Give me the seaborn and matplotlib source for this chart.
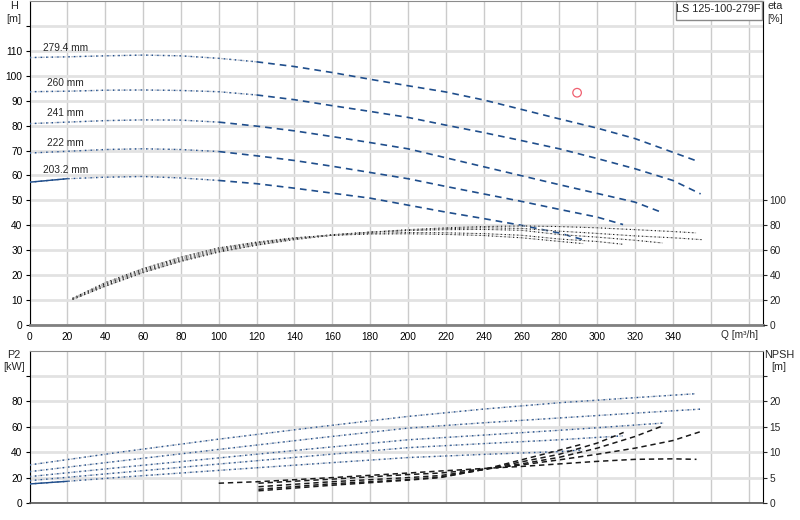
import numpy as np
import pandas as pd
import matplotlib
matplotlib.use("Agg")
import matplotlib.pyplot as plt
import seaborn as sns
from matplotlib.patches import Rectangle

# diametros do rotor
diametros = ["279.4 mm", "260 mm", "241 mm", "222 mm", "203.2 mm"]
modelo = "LS 125-100-279F"

# curvas H (m) x Q (m3/h)
q_h_279 = [0, 20, 40, 60, 80, 100, 120, 140, 160, 180, 200, 220, 240, 260, 280, 300, 320, 340, 352]
h_279 = [107.3, 107.6, 108.0, 108.3, 108.0, 107.0, 105.6, 103.7, 101.3, 98.6, 96.0, 93.5, 90.3, 86.5, 82.7, 79.0, 74.8, 69.3, 66.0]
q_h_260 = [0, 20, 40, 60, 80, 100, 120, 140, 160, 180, 200, 220, 240, 260, 280, 300, 320, 340, 354.7]
h_260 = [93.6, 93.8, 94.2, 94.3, 94.1, 93.6, 92.3, 90.4, 88.0, 85.7, 83.3, 80.2, 77.2, 74.0, 70.7, 66.8, 62.7, 58.0, 52.6]
q_h_241 = [0, 20, 40, 60, 80, 100, 120, 140, 160, 180, 200, 220, 240, 260, 280, 300, 320, 333.8]
h_241 = [80.8, 81.4, 82.0, 82.3, 82.2, 81.4, 79.8, 77.9, 75.6, 73.2, 70.7, 67.1, 63.5, 59.9, 56.3, 52.8, 49.3, 45.3]
q_h_222 = [0, 20, 40, 60, 80, 100, 120, 140, 160, 180, 200, 220, 240, 260, 280, 300, 313.7]
h_222 = [69.0, 69.7, 70.4, 70.7, 70.4, 69.6, 67.9, 66.0, 63.7, 61.2, 58.7, 55.6, 52.6, 49.6, 46.4, 43.3, 40.3]
q_h_203 = [0, 20, 40, 60, 80, 100, 120, 140, 160, 180, 200, 220, 240, 260, 280, 293.6]
h_203 = [57.3, 58.7, 59.3, 59.6, 59.0, 58.0, 56.7, 54.9, 52.9, 50.9, 48.1, 45.3, 42.7, 40.0, 36.9, 34.0]

# rendimento eta (%)
q_eta_279 = [22.8, 40, 60, 80, 100, 120, 140, 160, 180, 200, 220, 240, 260, 280, 300, 320, 340, 352.3]
eta_279 = [20.5, 31.0, 42.0, 51.0, 58.5, 64.0, 68.5, 72.0, 74.5, 76.5, 78.0, 79.0, 79.5, 79.0, 78.0, 76.5, 75.0, 73.9]
q_eta_260 = [22.8, 40, 60, 80, 100, 120, 140, 160, 180, 200, 220, 240, 260, 280, 300, 320, 340, 355.3]
eta_260 = [20.5, 31.5, 42.5, 51.5, 59.0, 64.5, 69.0, 72.2, 74.5, 76.0, 77.3, 78.0, 77.5, 75.3, 73.5, 71.5, 70.0, 68.5]
q_eta_241 = [22.8, 40, 60, 80, 100, 120, 140, 160, 180, 200, 220, 240, 260, 280, 300, 320, 334.7]
eta_241 = [21.0, 32.5, 43.5, 52.5, 60.0, 65.5, 69.5, 72.5, 74.5, 75.8, 76.5, 76.7, 76.0, 72.6, 70.5, 68.0, 65.8]
q_eta_222 = [22.8, 40, 60, 80, 100, 120, 140, 160, 180, 200, 220, 240, 260, 280, 300, 313.5]
eta_222 = [21.3, 33.0, 44.5, 53.5, 61.0, 66.0, 69.5, 72.0, 73.5, 74.2, 74.0, 73.3, 72.0, 69.0, 67.0, 64.8]
q_eta_203 = [22.8, 40, 60, 80, 100, 120, 140, 160, 180, 200, 220, 240, 260, 280, 292.7]
eta_203 = [21.5, 34.0, 45.3, 54.5, 61.9, 66.5, 70.0, 72.0, 73.0, 73.2, 72.7, 71.8, 70.0, 67.1, 65.3]

# potencia P2 (kW)
q_p2_279 = [0, 50, 100, 150, 200, 240, 280, 320, 352]
p2_279 = [30.0, 40.5, 50.3, 59.5, 68.2, 74.0, 79.0, 83.0, 86.1]
q_p2_260 = [0, 50, 100, 150, 200, 240, 280, 320, 355]
p2_260 = [24.7, 33.5, 42.2, 50.8, 59.0, 63.2, 67.0, 70.8, 74.0]
q_p2_241 = [0, 50, 100, 150, 200, 240, 280, 300, 335]
p2_241 = [20.8, 28.3, 35.5, 42.8, 49.8, 53.5, 57.3, 59.3, 63.0]
q_p2_222 = [0, 50, 100, 150, 200, 240, 280, 313.5]
p2_222 = [17.6, 24.2, 30.7, 37.2, 43.6, 46.8, 49.8, 52.9]
q_p2_203 = [0, 20, 50, 100, 150, 200, 240, 280, 292.6]
p2_203 = [15.0, 17.1, 20.5, 25.7, 30.8, 35.8, 38.3, 40.5, 41.9]

# NPSH (m)
q_npsh_279 = [100, 121, 160, 200, 217, 240, 260, 280, 300, 320, 340, 352.5]
npsh_279 = [3.9, 4.2, 5.0, 5.9, 6.3, 6.8, 7.2, 7.7, 8.2, 8.6, 8.7, 8.6]
q_npsh_260 = [121, 160, 200, 217, 240, 260, 280, 300, 320, 340, 355]
npsh_260 = [3.9, 4.7, 5.6, 5.9, 6.7, 7.5, 8.5, 9.6, 10.8, 12.3, 14.1]
q_npsh_241 = [121, 160, 200, 217, 240, 260, 280, 300, 320, 334.7]
npsh_241 = [3.2, 4.2, 5.0, 5.4, 6.6, 7.7, 9.0, 10.8, 13.1, 15.2]
q_npsh_222 = [121, 160, 200, 217, 240, 260, 280, 300, 314]
npsh_222 = [2.7, 3.8, 4.6, 5.1, 6.6, 8.1, 9.6, 11.8, 13.9]
q_npsh_203 = [121, 160, 200, 217, 240, 260, 280, 292.7]
npsh_203 = [2.4, 3.5, 4.5, 5.0, 6.6, 8.5, 10.4, 11.65]

# ponto de trabalho
q_ponto = [289.4]
h_ponto = [93.2]

curvas_h = [(q_h_279, h_279), (q_h_260, h_260), (q_h_241, h_241), (q_h_222, h_222), (q_h_203, h_203)]
curvas_eta = [(q_eta_279, eta_279), (q_eta_260, eta_260), (q_eta_241, eta_241), (q_eta_222, eta_222), (q_eta_203, eta_203)]
curvas_p2 = [(q_p2_279, p2_279), (q_p2_260, p2_260), (q_p2_241, p2_241), (q_p2_222, p2_222), (q_p2_203, p2_203)]
curvas_npsh = [(q_npsh_279, npsh_279), (q_npsh_260, npsh_260), (q_npsh_241, npsh_241), (q_npsh_222, npsh_222), (q_npsh_203, npsh_203)]

sns.set_style("white")
plt.rcParams['font.family'] = ['Liberation Sans', 'DejaVu Sans']
FS = 7.3
AZUL = "#1f4e8c"


def linha(ax, q, v, cor, estilo, lw=1.0, z=3):
    df = pd.DataFrame({"Q": q, "v": v})
    sns.lineplot(data=df, x="Q", y="v", ax=ax, color=cor, linestyle=estilo,
                 linewidth=lw, zorder=z, estimator=None, sort=False, legend=False)


def pontilhado(ax, q, v):
    linha(ax, q, v, "#bcc3cf", (0, (2, 1)), 1.0)
    linha(ax, q, v, AZUL, (0, (1, 3)), 1.0)


def preparar(ax, xtick_labels=True):
    ax.set_xlim(0, 387.5)
    ax.set_xticks(np.arange(0, 381, 20))
    if xtick_labels:
        ax.set_xticklabels([str(v) if v <= 340 else "" for v in range(0, 381, 20)])
    else:
        ax.set_xticklabels([])
    ax.grid(axis="x", color="#cbcbcb", lw=1)
    ax.grid(axis="y", color="#e2e2e2", lw=2)
    ax.set_axisbelow(True)
    ax.tick_params(labelsize=FS, length=3, width=0.8, pad=2, colors="black")
    ax.spines["left"].set_color("black")
    ax.spines["right"].set_color("black")
    ax.spines["top"].set_color("#8c8c8c")
    ax.spines["bottom"].set_color("#808080")
    ax.spines["bottom"].set_linewidth(2)


fig = plt.figure(figsize=(8, 5.2), dpi=100)
ax = fig.add_axes([29.5 / 800, 1 - 325 / 520, 733.2 / 800, 324 / 520])
ax2 = ax.twinx()
axb = fig.add_axes([29.5 / 800, 1 - 503 / 520, 733.2 / 800, 152.3 / 520])
axb2 = axb.twinx()

# --- painel superior: H e eta ---
cortes = [120, 120, 100, 100, 100]
for (q, h), corte in zip(curvas_h, cortes):
    q = np.array(q)
    h = np.array(h)
    m1 = q <= corte
    m2 = q >= corte
    pontilhado(ax, q[m1], h[m1])
    linha(ax, q[m2], h[m2], AZUL, (0, (4, 3)), 1.2)
# trecho continuo inicial do menor rotor
linha(ax, q_h_203[:2], h_203[:2], AZUL, "-", 1.0)

pos_rotulos = [(7.3, 109.8), (9.1, 96.0), (9.1, 84.0), (9.1, 72.0), (7.3, 60.8)]
for nome, (xq, yh) in zip(diametros, pos_rotulos):
    ax.text(xq, yh, nome, fontsize=FS, va="baseline", ha="left")

sns.scatterplot(x=q_ponto, y=h_ponto, ax=ax, marker="o", s=38, facecolors="none",
                edgecolor="#f06070", linewidth=0.9, zorder=5)

for q, e in curvas_eta:
    linha(ax2, q, e, "#b8b8b8", (0, (2, 1)), 0.75)
    linha(ax2, q, e, "#111111", (0, (1, 3)), 0.75)

preparar(ax)
ax.set_ylim(0, 130)
ax.set_yticks(np.arange(0, 121, 10))
ax.set_yticklabels([str(v) if v <= 110 else "" for v in range(0, 121, 10)])
ax2.set_ylim(0, 260)
ax2.set_yticks(np.arange(0, 101, 20))
ax2.tick_params(labelsize=FS, length=3, width=0.8, pad=2)
ax2.grid(False)
for s in ax2.spines.values():
    s.set_visible(False)
ax.set_xlabel("")
ax.set_ylabel("")
ax2.set_ylabel("")
ax2.set_xlabel("")

ax.text(375.5, -0.031, "Q [m\u00b3/h]", transform=ax.get_xaxis_transform(),
        fontsize=FS, ha="center", va="center")

# --- painel inferior: P2 e NPSH ---
for q, p in curvas_p2:
    pontilhado(axb, q, p)
linha(axb, q_p2_203[:2], p2_203[:2], AZUL, "-", 1.0)

for q, n in curvas_npsh:
    linha(axb2, q, n, "#1a1a1a", (0, (3.5, 2.5)), 1.1, z=4)

preparar(axb, xtick_labels=False)
axb.tick_params(axis="x", length=0)
axb.set_ylim(0, 120)
axb.set_yticks(np.arange(0, 101, 20))
axb.set_yticklabels([str(v) if v <= 80 else "" for v in range(0, 101, 20)])
axb2.set_ylim(0, 30)
axb2.set_yticks(np.arange(0, 26, 5))
axb2.set_yticklabels([str(v) if v <= 20 else "" for v in range(0, 26, 5)])
axb2.tick_params(labelsize=FS, length=3, width=0.8, pad=2)
axb2.grid(False)
for s in axb2.spines.values():
    s.set_visible(False)
axb.spines["bottom"].set_linewidth(1.2)
axb.spines["bottom"].set_color("#555555")
for a in (axb, axb2):
    a.set_xlabel("")
    a.set_ylabel("")

# rotulos dos eixos
fig.text(14 / 800, 1 - 6 / 520, "H", fontsize=FS + 0.5, ha="center", va="center")
fig.text(14 / 800, 1 - 19 / 520, "[m]", fontsize=FS + 0.5, ha="center", va="center")
fig.text(775 / 800, 1 - 6 / 520, "eta", fontsize=FS + 0.5, ha="center", va="center")
fig.text(775 / 800, 1 - 19 / 520, "[%]", fontsize=FS + 0.5, ha="center", va="center")
fig.text(14 / 800, 1 - 355 / 520, "P2", fontsize=FS + 0.5, ha="center", va="center")
fig.text(14 / 800, 1 - 367 / 520, "[kW]", fontsize=FS + 0.5, ha="center", va="center")
fig.text(779 / 800, 1 - 355 / 520, "NPSH", fontsize=FS + 0.5, ha="center", va="center")
fig.text(779 / 800, 1 - 367 / 520, "[m]", fontsize=FS + 0.5, ha="center", va="center")

# caixa do modelo
fig.patches.append(Rectangle((675.5 / 800, 1 - 19.5 / 520), 86 / 800, 19 / 520,
                             transform=fig.transFigure, facecolor="white",
                             edgecolor="#8a8a8a", lw=1, zorder=10))
fig.text(718.5 / 800, 1 - 9.5 / 520, modelo, fontsize=FS + 0.5, ha="center",
         va="center", zorder=11)

fig.savefig("out.png", dpi=100)
